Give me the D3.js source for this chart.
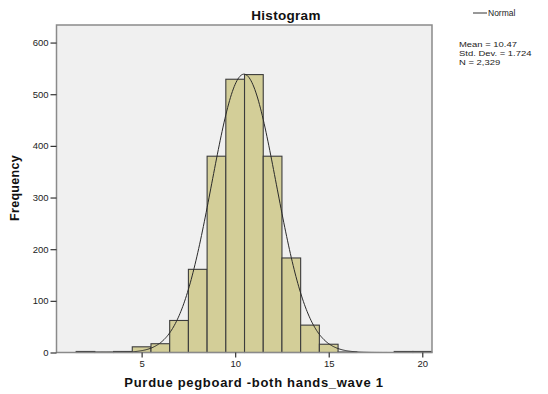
<!DOCTYPE html>
<html>
<head>
<meta charset="utf-8">
<script src="https://cdn.jsdelivr.net/npm/d3@7"></script>
<style>
  html, body { margin: 0; padding: 0; background: #fff; }
  svg { display: block; font-family: Arial, "Liberation Sans", sans-serif; }
</style>
</head>
<body>
<svg id="chart" width="548" height="394"></svg>
<script>
// Histogram bins (centered on integer scores, width 1) and counts
const binCenters = [2, 3, 4, 5, 6, 7, 8, 9, 10, 11, 12, 13, 14, 15, 16, 17, 18, 19, 20];
const binCounts  = [2, 1, 2, 11, 17, 62, 161, 380, 529, 538, 380, 183, 53, 16, 1, 0, 0, 2, 2];
const xTicks = [5, 10, 15, 20];
const yTicks = [0, 100, 200, 300, 400, 500, 600];
const statLines = ["Mean = 10.47", "Std. Dev. = 1.724", "N = 2,329"];
const mean = 10.47, sd = 1.724, n = 2329, binWidth = 1;

const svg = d3.select("#chart");
const plot = { left: 56.5, top: 25, right: 432, bottom: 352.5 };

const x = d3.scaleLinear().domain([0.45, 20.52]).range([plot.left, plot.right]);
const y = d3.scaleLinear().domain([0, 634]).range([plot.bottom, plot.top]);

// plot background
svg.append("rect")
  .attr("x", plot.left).attr("y", plot.top)
  .attr("width", plot.right - plot.left).attr("height", plot.bottom - plot.top)
  .attr("fill", "#f0f0f0");

// bars
svg.append("g").selectAll("rect")
  .data(binCenters.map((c, i) => ({ c, v: binCounts[i] })).filter(d => d.v > 0))
  .join("rect")
  .attr("x", d => x(d.c - binWidth / 2))
  .attr("width", d => x(d.c + binWidth / 2) - x(d.c - binWidth / 2))
  .attr("y", d => y(d.v))
  .attr("height", d => y(0) - y(d.v))
  .attr("fill", "#d3ce98")
  .attr("stroke", "#3c3c3c")
  .attr("stroke-width", 1.1);

// normal curve scaled to counts
const pts = d3.range(0.45, 20.52, 0.05).map(v => [v,
  n * binWidth / (sd * Math.sqrt(2 * Math.PI)) * Math.exp(-0.5 * ((v - mean) / sd) ** 2)]);
svg.append("path")
  .datum(pts)
  .attr("fill", "none")
  .attr("stroke", "#2a2a2a")
  .attr("stroke-width", 1)
  .attr("d", d3.line().x(d => x(d[0])).y(d => y(d[1])).curve(d3.curveBasis));

// frame
svg.append("rect")
  .attr("x", plot.left).attr("y", plot.top)
  .attr("width", plot.right - plot.left).attr("height", plot.bottom - plot.top)
  .attr("fill", "none").attr("stroke", "#8a8a8a").attr("stroke-width", 1.5);

// axes
const yAxis = svg.append("g")
  .attr("transform", `translate(${plot.left},0)`)
  .call(d3.axisLeft(y).tickValues(yTicks).tickSize(6).tickPadding(2));
const xAxis = svg.append("g")
  .attr("transform", `translate(0,${plot.bottom})`)
  .call(d3.axisBottom(x).tickValues(xTicks).tickSize(5).tickPadding(3));
[yAxis, xAxis].forEach(g => {
  g.select(".domain").remove();
  g.selectAll(".tick line").attr("stroke", "#333").attr("stroke-width", 1.2);
  g.selectAll(".tick text").attr("fill", "#222").style("font-size", "9.5px")
    .style("font-family", "Arial, 'Liberation Sans', sans-serif");
});

// titles
svg.append("text")
  .attr("x", 286).attr("y", 20)
  .attr("text-anchor", "middle")
  .style("font-size", "13.5px").style("font-weight", "bold")
  .style("letter-spacing", "0.3px")
  .attr("fill", "#111")
  .text("Histogram");

svg.append("text")
  .attr("x", 254).attr("y", 387)
  .attr("text-anchor", "middle")
  .style("font-size", "13px").style("font-weight", "bold")
  .style("letter-spacing", "0.7px")
  .attr("fill", "#111")
  .text("Purdue pegboard -both hands_wave 1");

svg.append("text")
  .attr("transform", "translate(19,188) rotate(-90)")
  .attr("text-anchor", "middle")
  .style("font-size", "12.5px").style("font-weight", "bold")
  .style("letter-spacing", "0.3px")
  .attr("fill", "#111")
  .text("Frequency");

// legend
svg.append("line")
  .attr("x1", 473).attr("x2", 487).attr("y1", 13).attr("y2", 13)
  .attr("stroke", "#333").attr("stroke-width", 1);
svg.append("text")
  .attr("x", 488).attr("y", 16)
  .style("font-size", "8.5px").attr("fill", "#222")
  .text("Normal");

// summary statistics, slightly widened
svg.append("g")
  .attr("transform", "translate(459,0) scale(1.18,1)")
  .selectAll("text")
  .data(statLines)
  .join("text")
  .attr("x", 0)
  .attr("y", (d, i) => 47 + i * 9)
  .style("font-size", "8px").attr("fill", "#222")
  .text(d => d);
</script>
</body>
</html>
